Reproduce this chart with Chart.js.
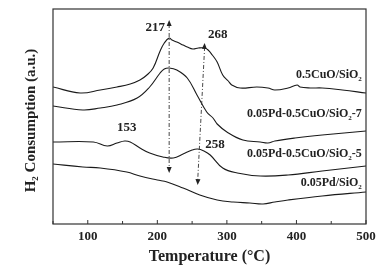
<!DOCTYPE html>
<html>
<head>
<meta charset="utf-8">
<script src="https://cdn.jsdelivr.net/npm/chart.js@4.4.1/dist/chart.umd.min.js"></script>
<style>
  html, body { margin: 0; padding: 0; background: #fff; }
  #wrap { width: 391px; height: 270px; }
</style>
</head>
<body>
<div id="wrap"><canvas id="canvas" width="391" height="270"></canvas></div>
<script>
// dữ liệu (trục y: đơn vị tùy ý)
const cuoT = [50, 89, 118, 142, 161, 175, 185, 194, 204, 210, 217, 221, 228, 237, 243, 251, 259, 268, 273, 279, 286, 294, 302, 307, 319, 343, 359, 369, 388, 401, 405, 420, 437, 466, 500];
const cuoY = [137, 131, 134, 137, 140, 144, 149, 156, 173, 181, 186, 184, 182, 179, 177, 175, 176, 176, 174, 169, 162, 149, 143, 139, 136, 137, 136, 134, 136, 139, 137, 136, 136, 134, 131];

const pd7T = [50, 93, 118, 142, 171, 189, 204, 210, 217, 228, 243, 257, 271, 280, 286, 300, 323, 348, 359, 369, 398, 437, 500];
const pd7Y = [118, 114, 116, 119, 126, 137, 151, 155, 156, 154, 146, 129, 112, 106, 100, 92, 84, 82, 81, 83, 86, 89, 93];

const pd5T = [50, 108, 128, 142, 153, 161, 175, 189, 208, 223, 237, 250, 258, 267, 276, 294, 315, 348, 388, 437, 500];
const pd5Y = [82, 82, 78, 81, 83, 82, 76, 71, 67, 66, 70, 74, 75, 73, 69, 56, 51, 48, 49, 53, 58];

const pdT = [50, 93, 118, 156, 175, 200, 214, 237, 261, 286, 309, 333, 352, 369, 388, 437, 500];
const pdY = [60, 57, 56, 52, 48, 44, 42, 36, 29, 24, 22, 21, 20, 22, 24, 28, 32];

const xTicks = [100, 200, 300, 400, 500];
const minorTicks = [50, 100, 150, 200, 250, 300, 350, 400, 450, 500];

// đường mũi tên: [T trên, y trên, T dưới, y dưới]
const arrowLines = [
  [217, 204, 217, 51],
  [268, 181, 258, 39],
];
// nhãn đỉnh: [chữ, T, y, căn lề]
const peakLabels = [
  ["217", 211, 196, "right"],
  ["268", 273, 189, "left"],
  ["153", 156, 96, "center"],
  ["258", 269, 79, "left"],
];
// nhãn mẫu ({2} = chỉ số dưới)
const seriesLabels = [
  ["0.5CuO/SiO{2}", 494, 149],
  ["0.05Pd-0.5CuO/SiO{2}-7", 494, 110],
  ["0.05Pd-0.5CuO/SiO{2}-5", 494, 70],
  ["0.05Pd/SiO{2}", 494, 41],
];

const serif = "'Liberation Serif', 'Times New Roman', serif";

function toPts(xs, ys) {
  return xs.map((x, i) => ({ x: x, y: ys[i] }));
}

// vẽ chữ có chỉ số dưới
function drawSubText(ctx, text, x, y, size, align) {
  const parts = text.split(/(\{[^}]*\})/).filter((p) => p.length);
  const subSize = Math.round(size * 0.62);
  let total = 0;
  parts.forEach((p) => {
    if (p[0] === "{") {
      ctx.font = "bold " + subSize + "px " + serif;
      total += ctx.measureText(p.slice(1, -1)).width;
    } else {
      ctx.font = "bold " + size + "px " + serif;
      total += ctx.measureText(p).width;
    }
  });
  let cx = x;
  if (align === "right") cx = x - total;
  if (align === "center") cx = x - total / 2;
  ctx.textAlign = "left";
  ctx.textBaseline = "middle";
  parts.forEach((p) => {
    if (p[0] === "{") {
      const s = p.slice(1, -1);
      ctx.font = "bold " + subSize + "px " + serif;
      ctx.fillText(s, cx, y + size * 0.32);
      cx += ctx.measureText(s).width;
    } else {
      ctx.font = "bold " + size + "px " + serif;
      ctx.fillText(p, cx, y);
      cx += ctx.measureText(p).width;
    }
  });
}

function arrowHead(ctx, x, y, ang) {
  const len = 6, w = 2.5;
  ctx.save();
  ctx.translate(x, y);
  ctx.rotate(ang);
  ctx.beginPath();
  ctx.moveTo(0, 0);
  ctx.lineTo(-len, -w);
  ctx.lineTo(-len, w);
  ctx.closePath();
  ctx.fill();
  ctx.restore();
}

const decorPlugin = {
  id: "decor",
  afterDraw(chart) {
    const ctx = chart.ctx;
    const ca = chart.chartArea;
    const sx = chart.scales.x;
    const sy = chart.scales.y;
    ctx.save();
    ctx.strokeStyle = "#333";
    ctx.fillStyle = "#222";
    ctx.lineWidth = 1.2;
    ctx.strokeRect(ca.left, ca.top, ca.right - ca.left, ca.bottom - ca.top);

    // vạch chia trục x
    ctx.lineWidth = 1;
    minorTicks.forEach((v) => {
      const px = sx.getPixelForValue(v);
      const len = v % 100 === 0 ? 4 : 3;
      ctx.beginPath();
      ctx.moveTo(px, ca.bottom);
      ctx.lineTo(px, ca.bottom - len);
      ctx.stroke();
    });

    // đường nét chấm gạch + mũi tên
    arrowLines.forEach((a) => {
      const x1 = sx.getPixelForValue(a[0]), y1 = sy.getPixelForValue(a[1]);
      const x2 = sx.getPixelForValue(a[2]), y2 = sy.getPixelForValue(a[3]);
      ctx.setLineDash([4, 2, 1, 2]);
      ctx.lineWidth = 0.9;
      ctx.beginPath();
      ctx.moveTo(x1, y1 + 4);
      ctx.lineTo(x2, y2 - 4);
      ctx.stroke();
      ctx.setLineDash([]);
      const ang = Math.atan2(y2 - y1, x2 - x1);
      arrowHead(ctx, x1, y1, ang + Math.PI);
      arrowHead(ctx, x2, y2, ang);
    });

    peakLabels.forEach((l) => {
      drawSubText(ctx, l[0], sx.getPixelForValue(l[1]), sy.getPixelForValue(l[2]), 13, l[3]);
    });
    seriesLabels.forEach((l) => {
      drawSubText(ctx, l[0], sx.getPixelForValue(l[1]), sy.getPixelForValue(l[2]), 12, "right");
    });

    // tiêu đề trục y
    ctx.save();
    ctx.translate(31, (ca.top + ca.bottom) / 2 + 4);
    ctx.rotate(-Math.PI / 2);
    drawSubText(ctx, "H{2} Consumption (a.u.)", 0, 0, 15, "center");
    ctx.restore();
    ctx.restore();
  },
};

const lineStyle = {
  borderColor: "#1a1a1a",
  borderWidth: 1.1,
  pointRadius: 0,
  tension: 0.4,
  fill: false,
};

const ctx = document.getElementById("canvas").getContext("2d");
const myChart = new Chart(ctx, {
  type: "line",
  data: {
    datasets: [
      Object.assign({ label: "0.5CuO/SiO2", data: toPts(cuoT, cuoY) }, lineStyle),
      Object.assign({ label: "0.05Pd-0.5CuO/SiO2-7", data: toPts(pd7T, pd7Y) }, lineStyle),
      Object.assign({ label: "0.05Pd-0.5CuO/SiO2-5", data: toPts(pd5T, pd5Y) }, lineStyle),
      Object.assign({ label: "0.05Pd/SiO2", data: toPts(pdT, pdY) }, lineStyle),
    ],
  },
  options: {
    responsive: false,
    animation: false,
    layout: {
      padding: { left: 53, right: 25, top: 9, bottom: 0 },
    },
    plugins: {
      legend: { display: false },
      tooltip: { enabled: false },
    },
    scales: {
      x: {
        type: "linear",
        min: 50,
        max: 500,
        afterBuildTicks: (scale) => {
          scale.ticks = xTicks.map((v) => ({ value: v }));
        },
        afterFit: (scale) => {
          scale.height = 46;
        },
        grid: { display: false, drawTicks: false },
        border: { display: false },
        ticks: {
          color: "#222",
          padding: 5,
          maxRotation: 0,
          font: { size: 13, weight: "bold", family: serif },
        },
        title: {
          display: true,
          text: "Temperature (°C)",
          color: "#222",
          padding: { top: 0, bottom: 4 },
          font: { size: 16, weight: "bold", family: serif },
        },
      },
      y: {
        display: false,
        min: 0,
        max: 215,
      },
    },
  },
  plugins: [decorPlugin],
});
</script>
</body>
</html>
